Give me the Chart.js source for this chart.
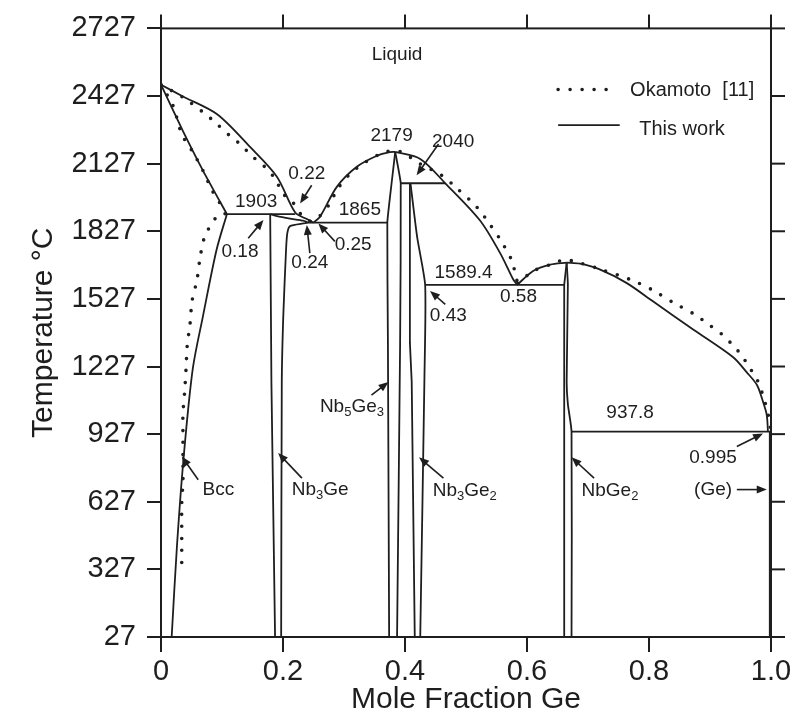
<!DOCTYPE html>
<html><head><meta charset="utf-8">
<script src="https://cdn.jsdelivr.net/npm/chart.js@4.4.0/dist/chart.umd.min.js"></script>
<style>html,body{margin:0;padding:0;background:#fff}#wrap{width:797px;height:713px;position:relative}</style>
</head><body><div id="wrap"><canvas id="c"></canvas></div>
<script>
// ---- axis ticks ----
const xTicks = [0, 0.2, 0.4, 0.6, 0.8, 1.0];
const xTickLabels = ['0', '0.2', '0.4', '0.6', '0.8', '1.0'];
const yTicks = [27, 327, 627, 927, 1227, 1527, 1827, 2127, 2427, 2727];

// ---- This work (solid) : [mole fraction Ge, T in C] ----
const liqNb = [[0,2477],[0.036,2425],[0.092,2346],[0.146,2201],[0.19,2069],[0.22,1910],[0.24,1880],[0.25,1865]];
const solNb = [[0,2477],[0.036,2271],[0.069,2095],[0.108,1903]];
const line1903 = [[0.108,1903],[0.22,1903]];
const bccSolvus = [[0.108,1903],[0.091,1744],[0.069,1453],[0.052,1215],[0.037,820],[0.026,424],[0.0175,27]];
const nb3geLeft = [[0.179,1903],[0.181,1158],[0.187,27]];
const nb3geRight = [[0.179,1903],[0.19,1894],[0.2115,1883],[0.233,1874],[0.24,1865],[0.2115,1850],[0.207,1818],[0.205,1745],[0.2005,1453],[0.198,1158],[0.197,27]];
const line1865 = [[0.24,1865],[0.371,1865]];
const liqMidL = [[0.25,1865],[0.261,1893],[0.2885,2025],[0.321,2113],[0.354,2162],[0.375,2178],[0.384,2179]];
const liqMidR = [[0.384,2179],[0.425,2148],[0.466,2040],[0.523,1875],[0.556,1730],[0.5775,1613],[0.584,1589.4]];
const line2040 = [[0.393,2040],[0.466,2040]];
const nb5ge3Left = [[0.384,2179],[0.378,2040],[0.371,1865],[0.372,1334],[0.374,27]];
const nb5ge3Right = [[0.384,2179],[0.393,2040],[0.392,1334],[0.387,27]];
const nb3ge2Left = [[0.408,2040],[0.408,1334],[0.411,1158],[0.416,27]];
const nb3ge2Right = [[0.409,2040],[0.42,1800],[0.433,1589.4],[0.432,1200],[0.425,27]];
const line1589 = [[0.433,1589.4],[0.662,1589.4]];
const liqRL = [[0.584,1589.4],[0.61,1651],[0.638,1679],[0.665,1688]];
const liqRR = [[0.665,1688],[0.687,1683],[0.72,1657],[0.763,1598],[0.807,1515],[0.873,1390],[0.938,1268],[0.96,1202],[0.977,1145],[0.987,1070],[0.993,1013],[0.995,937.8]];
const nbge2Left = [[0.665,1688],[0.661,1589.4],[0.661,27]];
const nbge2Right = [[0.665,1688],[0.667,1589.4],[0.665,1158],[0.667,1060],[0.673,937.8],[0.673,27]];
const line938 = [[0.673,937.8],[1.0,937.8]];
const geSide = [[0.998,937.8],[0.998,27]];

// ---- Okamoto [11] (dotted) ----
const okLiqNb = [[0,2477],[0.036,2421],[0.069,2355],[0.0885,2311],[0.113,2250],[0.1295,2214],[0.149,2161],[0.17,2113],[0.187,2060],[0.2,1994],[0.215,1959],[0.23,1900],[0.245,1870]];
const okSolNb = [[0,2477],[0.02,2382],[0.034,2258],[0.052,2179],[0.069,2095],[0.084,2007],[0.097,1950],[0.105,1910]];
const okSolvus = [[0.105,1905],[0.093,1897],[0.072,1805],[0.064,1708],[0.059,1611],[0.051,1519],[0.0475,1413],[0.043,1321],[0.041,1215],[0.039,1123],[0.036,1017],[0.036,916],[0.036,815],[0.036,718],[0.034,621],[0.034,520],[0.034,423],[0.034,322]];
const okLiqMid = [[0.245,1870],[0.255,1880],[0.277,1950],[0.288,2009],[0.31,2082],[0.331,2126],[0.354,2163],[0.37,2181],[0.392,2181],[0.425,2126],[0.46,2075],[0.482,2025],[0.5175,1935],[0.539,1858],[0.558,1782],[0.575,1697],[0.583,1613],[0.585,1595]];
const okLiqR = [[0.585,1595],[0.61,1650],[0.638,1679],[0.662,1700],[0.687,1686],[0.722,1657],[0.769,1613],[0.804,1569],[0.84,1510],[0.873,1461],[0.897,1415],[0.919,1371],[0.938,1320],[0.952,1276],[0.966,1217],[0.9765,1173],[0.985,1114],[0.99,1070],[0.9955,1012],[1.0,938]];

const INK = '#1e1e1e';
const FONT = "'Liberation Sans', Arial, Helvetica, sans-serif";
const toPts = a => a.map(p => ({x: p[0], y: p[1]}));

function solid(arr, tension) {
  return {data: toPts(arr), showLine: true, borderColor: INK, borderWidth: 1.8, pointRadius: 0, tension: tension || 0, fill: false};
}
function dotted(arr) {
  return {data: toPts(arr), showLine: true, borderColor: INK, borderWidth: 3.6, borderDash: [0, 12], borderCapStyle: 'round', pointRadius: 0, tension: 0.3, fill: false};
}

const datasets = [
  solid(liqNb, 0.3), solid(solNb, 0.2), solid(line1903), solid(bccSolvus, 0.3),
  solid(nb3geLeft), solid(nb3geRight, 0.2), solid(line1865),
  solid(liqMidL, 0.3), solid(liqMidR, 0.3), solid(line2040),
  solid(nb5ge3Left, 0.1), solid(nb5ge3Right, 0.1), solid(nb3ge2Left), solid(nb3ge2Right, 0.2),
  solid(line1589), solid(liqRL, 0.3), solid(liqRR, 0.3),
  solid(nbge2Left), solid(nbge2Right, 0.2), solid(line938), solid(geSide),
  dotted(okLiqNb), dotted(okSolNb), dotted(okSolvus), dotted(okLiqMid), dotted(okLiqR)
];

// annotation texts (data coordinates of text centre, optional arrow from->to)
const notes = [
  {p: [['Liquid']], x: 0.387, y: 2610},
  {p: [['1903']], x: 0.156, y: 1960},
  {p: [['0.22']], x: 0.239, y: 2082, a: [0.247, 2031, 0.228, 1950]},
  {p: [['0.18']], x: 0.1295, y: 1738, a: [0.143, 1796, 0.168, 1877]},
  {p: [['0.24']], x: 0.244, y: 1686, a: [0.244, 1730, 0.239, 1855]},
  {p: [['0.25']], x: 0.315, y: 1767, a: [0.285, 1782, 0.258, 1862]},
  {p: [['1865']], x: 0.326, y: 1921},
  {p: [['2179']], x: 0.378, y: 2251},
  {p: [['2040']], x: 0.479, y: 2222, a: [0.455, 2214, 0.419, 2075]},
  {p: [['1589.4']], x: 0.496, y: 1642},
  {p: [['0.43']], x: 0.471, y: 1452, a: [0.466, 1503, 0.441, 1562]},
  {p: [['0.58']], x: 0.586, y: 1537},
  {p: [['937.8']], x: 0.769, y: 1023},
  {p: [['0.995']], x: 0.905, y: 820, a: [0.944, 872, 0.987, 930]},
  {p: [['(Ge)']], x: 0.905, y: 681, a: [0.944, 681, 0.993, 681]},
  {p: [['Bcc']], x: 0.094, y: 681, a: [0.061, 725, 0.034, 828]},
  {p: [['Nb'], ['3', 1], ['Ge']], x: 0.261, y: 681, a: [0.231, 732, 0.192, 843]},
  {p: [['Nb'], ['5', 1], ['Ge'], ['3', 1]], x: 0.313, y: 1048, a: [0.345, 1100, 0.373, 1158]},
  {p: [['Nb'], ['3', 1], ['Ge'], ['2', 1]], x: 0.498, y: 674, a: [0.463, 732, 0.423, 824]},
  {p: [['Nb'], ['Ge'], ['2', 1]], x: 0.736, y: 674, a: [0.71, 732, 0.673, 824]}
];
const legendItems = [
  {label: 'Okamoto  [11]', x1: 0.651, x2: 0.749, y: 2456, tx: 0.769, ty: 2452, dots: true},
  {label: 'This work', x1: 0.651, x2: 0.752, y: 2298, tx: 0.784, ty: 2280, dots: false}
];

function drawRich(ctx, parts, cx, cy, size) {
  const big = size + 'px ' + FONT, small = Math.round(size * 0.68) + 'px ' + FONT;
  let w = 0;
  parts.forEach(pt => { ctx.font = pt[1] ? small : big; w += ctx.measureText(pt[0]).width; });
  let x = cx - w / 2;
  ctx.textAlign = 'left'; ctx.textBaseline = 'middle';
  parts.forEach(pt => {
    ctx.font = pt[1] ? small : big;
    ctx.fillText(pt[0], x, pt[1] ? cy + size * 0.3 : cy);
    x += ctx.measureText(pt[0]).width;
  });
}
function arrow(ctx, x1, y1, x2, y2) {
  const ang = Math.atan2(y2 - y1, x2 - x1), L = 10, H = 4;
  ctx.beginPath(); ctx.moveTo(x1, y1);
  ctx.lineTo(x2 - Math.cos(ang) * L * 0.8, y2 - Math.sin(ang) * L * 0.8); ctx.stroke();
  ctx.beginPath(); ctx.moveTo(x2, y2);
  ctx.lineTo(x2 - Math.cos(ang) * L + Math.sin(ang) * H, y2 - Math.sin(ang) * L - Math.cos(ang) * H);
  ctx.lineTo(x2 - Math.cos(ang) * L - Math.sin(ang) * H, y2 - Math.sin(ang) * L + Math.cos(ang) * H);
  ctx.closePath(); ctx.fill();
}

const decor = {
  id: 'decor',
  afterDraw(chart) {
    const {ctx, chartArea: ca, scales: {x, y}} = chart;
    ctx.save();
    ctx.strokeStyle = INK; ctx.fillStyle = INK; ctx.lineWidth = 2;
    ctx.strokeRect(ca.left, ca.top, ca.right - ca.left, ca.bottom - ca.top);
    // top and right outward ticks
    x.ticks.forEach(t => { const px = x.getPixelForValue(t.value); ctx.beginPath(); ctx.moveTo(px, ca.top); ctx.lineTo(px, ca.top - 14); ctx.stroke(); });
    y.ticks.forEach(t => { const py = y.getPixelForValue(t.value); ctx.beginPath(); ctx.moveTo(ca.right, py); ctx.lineTo(ca.right + 14, py); ctx.stroke(); });
    // notes
    ctx.lineWidth = 1.6;
    notes.forEach(n => {
      drawRich(ctx, n.p, x.getPixelForValue(n.x), y.getPixelForValue(n.y), 19);
      if (n.a) arrow(ctx, x.getPixelForValue(n.a[0]), y.getPixelForValue(n.a[1]), x.getPixelForValue(n.a[2]), y.getPixelForValue(n.a[3]));
    });
    // legend
    legendItems.forEach(li => {
      const py = y.getPixelForValue(li.y);
      ctx.beginPath();
      if (li.dots) { ctx.setLineDash([0, 12]); ctx.lineCap = 'round'; ctx.lineWidth = 3.6; }
      else { ctx.setLineDash([]); ctx.lineCap = 'butt'; ctx.lineWidth = 1.6; }
      ctx.moveTo(x.getPixelForValue(li.x1), py); ctx.lineTo(x.getPixelForValue(li.x2), py); ctx.stroke();
      ctx.setLineDash([]);
      ctx.font = '20px ' + FONT; ctx.textAlign = 'left'; ctx.textBaseline = 'middle';
      ctx.fillText(li.label, x.getPixelForValue(li.tx), y.getPixelForValue(li.ty));
    });
    ctx.restore();
  }
};

new Chart(document.getElementById('c'), {
  type: 'scatter',
  data: {datasets},
  plugins: [decor],
  options: {
    responsive: true, maintainAspectRatio: false, animation: false,
    layout: {padding: {left: 0, right: 26, top: 24, bottom: 0}},
    plugins: {legend: {display: false}, tooltip: {enabled: false}},
    scales: {
      x: {
        type: 'linear', min: 0, max: 1,
        afterBuildTicks: s => { s.ticks = xTicks.map(v => ({value: v})); },
        afterFit: s => { s.height = 76; },
        ticks: {callback: (v, i) => xTickLabels[i], font: {family: FONT, size: 29}, color: INK, padding: 3, maxRotation: 0, autoSkip: false},
        grid: {drawOnChartArea: false, tickLength: 15, color: INK, lineWidth: 2},
        border: {color: INK, width: 2},
        title: {display: true, text: 'Mole Fraction Ge', font: {family: FONT, size: 30, lineHeight: 0.9}, color: INK, padding: 0}
      },
      y: {
        type: 'linear', min: 27, max: 2727,
        afterBuildTicks: s => { s.ticks = yTicks.map(v => ({value: v})); },
        afterFit: s => { s.width = 161; },
        ticks: {callback: v => String(v), font: {family: FONT, size: 29}, color: INK, padding: 11, autoSkip: false},
        grid: {drawOnChartArea: false, tickLength: 14, color: INK, lineWidth: 2},
        border: {color: INK, width: 2},
        title: {display: true, text: 'Temperature °C', font: {family: FONT, size: 30, lineHeight: 1.2}, color: INK, padding: {top: 26, bottom: 0}}
      }
    }
  }
});
</script>
</body></html>
